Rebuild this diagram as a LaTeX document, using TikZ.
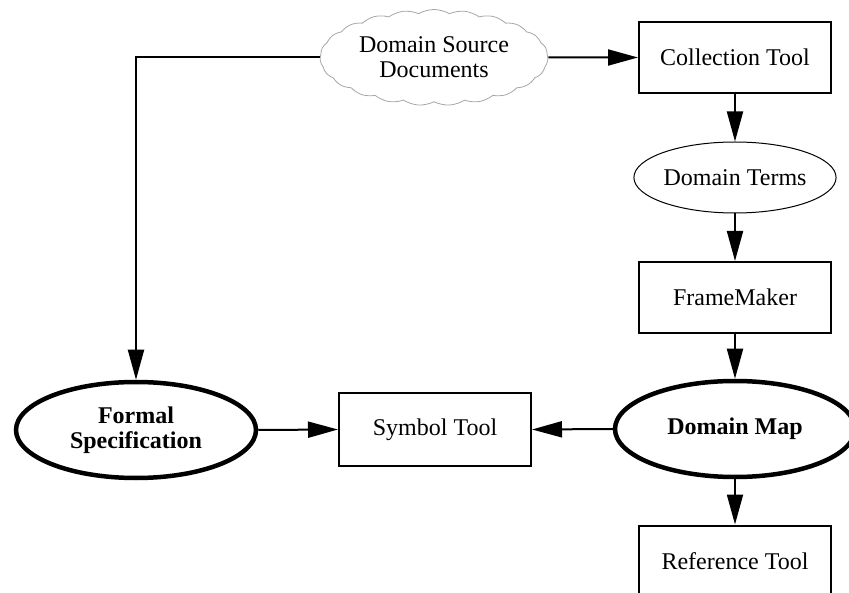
\documentclass[tikz,border=0pt]{standalone}
\usepackage{fontspec}
\setmainfont{Liberation Serif}
\usetikzlibrary{arrows.meta,shapes.geometric,shapes.symbols}
\begin{document}
\begin{tikzpicture}[x=1pt,y=-1pt,
  every node/.style={font=\fontsize{24}{25}\selectfont, align=center, inner sep=0pt},
  toolbox/.style={draw, rectangle, line width=2pt, minimum width=192pt, minimum height=71pt},
  termoval/.style={draw, ellipse, line width=1pt, minimum width=192pt, minimum height=71pt},
  keyoval/.style={draw, ellipse, line width=4.5pt, minimum width=240pt, minimum height=96pt, font=\fontsize{24}{25}\selectfont\bfseries},
  srccloud/.style={draw=gray!70, cloud, cloud ignores aspect, cloud puffs=23, cloud puff arc=60, line width=0.8pt, minimum width=228pt, minimum height=96pt},
  arr/.style={line width=2pt, -{Triangle[length=30pt,width=16pt]}}
]
\useasboundingbox (0,0) rectangle (849,593);
\node[srccloud] (doc) at (434,57.5) {Domain Source\\Documents};
\node[toolbox] (coll) at (735,57.5) {Collection Tool};
\node[termoval] (terms) at (735,177.5) {Domain Terms};
\node[toolbox] (fm) at (735,297.5) {FrameMaker};
\node[keyoval] (dmap) at (735,429) {Domain Map};
\node[toolbox] (ref) at (735,561) {Reference Tool};
\node[toolbox, minimum height=73pt] (sym) at (435,429.5) {Symbol Tool};
\node[keyoval] (fspec) at (136,430) {Formal\\Specification};

\draw[arr] (doc.east) -- (coll.west);
\draw[arr] (doc.west) -| (fspec.north);
\draw[arr] (coll.south) -- (terms.north);
\draw[arr] (terms.south) -- (fm.north);
\draw[arr] (fm.south) -- (dmap.north);
\draw[arr] (dmap.south) -- (ref.north);
\draw[arr] (fspec.east) -- (sym.west);
\draw[arr] (dmap.west) -- (sym.east);
\end{tikzpicture}
\end{document}
